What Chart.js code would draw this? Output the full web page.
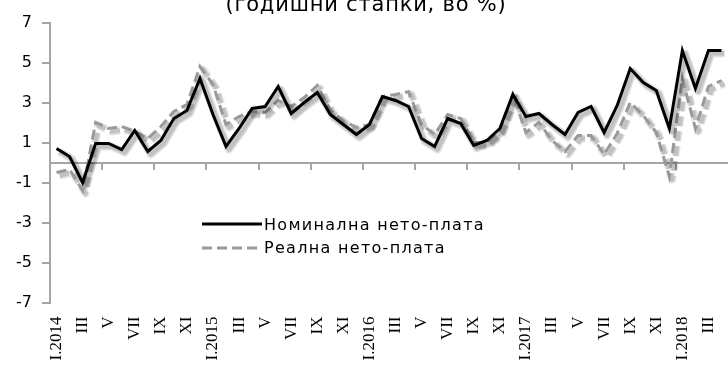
<!DOCTYPE html>
<html>
<head>
<meta charset="utf-8">
<script src="https://cdn.jsdelivr.net/npm/chart.js@4.4.1/dist/chart.umd.min.js"></script>
<style>
  html, body { margin: 0; padding: 0; background: #fff; }
  #wrap { width: 728px; height: 367px; position: relative; }
</style>
</head>
<body>
<div id="wrap"><canvas id="wages"></canvas></div>
<script>
// Monthly categories, January 2014 – April 2018
const months = [
  'I.2014','II','III','IV','V','VI','VII','VIII','IX','X','XI','XII',
  'I.2015','II','III','IV','V','VI','VII','VIII','IX','X','XI','XII',
  'I.2016','II','III','IV','V','VI','VII','VIII','IX','X','XI','XII',
  'I.2017','II','III','IV','V','VI','VII','VIII','IX','X','XI','XII',
  'I.2018','II','III','IV'
];

// Annual growth rates, %
const nominalNet = [
  0.7, 0.3, -1.0, 0.95, 0.95, 0.65, 1.6, 0.55, 1.1, 2.2, 2.6, 4.2,
  2.4, 0.8, 1.7, 2.7, 2.8, 3.8, 2.45, 3.0, 3.5, 2.4, 1.9, 1.4,
  1.9, 3.3, 3.1, 2.8, 1.2, 0.8, 2.2, 1.95, 0.85, 1.1, 1.7, 3.4,
  2.3, 2.45, 1.9, 1.4, 2.5, 2.8, 1.5, 2.85, 4.7, 4.0, 3.6, 1.7,
  5.6, 3.7, 5.6, 5.6
];
const realNet = [
  -0.5, -0.35, -1.4, 2.0, 1.7, 1.8, 1.55, 1.2, 1.8, 2.55, 2.9, 4.8,
  3.9, 1.9, 2.3, 2.55, 2.5, 3.1, 2.8, 3.25, 3.85, 2.6, 2.1, 1.75,
  1.9, 3.3, 3.4, 3.55, 1.9, 1.4, 2.4, 2.2, 1.0, 1.0, 1.6, 3.4,
  1.5, 2.0, 1.1, 0.55, 1.35, 1.35, 0.4, 1.45, 3.0, 2.35, 1.5, -0.7,
  4.2, 1.7, 3.8, 4.1
];

const seriesNames = ['Номинална нето-плата', 'Реална нето-плата'];
const titleText = '(годишни стапки, во %)';

const AXIS_GREY = '#a6a6a6';

// Soft drop shadow: before a line element strokes itself, its own path is
// stroked a few times, shifted down-right, in widening translucent passes
const lineShadow = {
  id: 'lineShadow',
  beforeDatasetDraw(chart, args) {
    const el = args.meta.dataset;
    if (!el || el._shadowed) return;
    const draw = el.draw.bind(el);
    el.draw = function (ctx, area, start, count) {
      const o = this.options;
      ctx.save();
      ctx.translate(3, 3);
      ctx.setLineDash(o.borderDash || []);
      ctx.lineJoin = 'round';
      ctx.lineCap = 'butt';
      [8, 6, 4].forEach(w => {
        ctx.strokeStyle = 'rgba(0,0,0,0.09)';
        ctx.lineWidth = w;
        ctx.beginPath();
        this.path(ctx);
        ctx.stroke();
      });
      ctx.restore();
      draw(ctx, area, start, count);
    };
    el._shadowed = true;
  }
};

// Subtitle at the top and the key placed inside the plot
const captions = {
  id: 'captions',
  afterDraw(chart) {
    const ctx = chart.ctx;
    ctx.save();
    ctx.fillStyle = '#000';
    ctx.font = '21px "DejaVu Sans"';
    ctx.letterSpacing = '0.8px';
    ctx.textAlign = 'center';
    ctx.textBaseline = 'alphabetic';
    ctx.fillText(titleText, 366, 11);

    const rows = [{ y: 224, ty: 226 }, { y: 248, ty: 249 }];
    chart.data.datasets.forEach((ds, i) => {
      const r = rows[i];
      ctx.beginPath();
      ctx.strokeStyle = ds.borderColor;
      ctx.lineWidth = ds.borderWidth;
      ctx.setLineDash(ds.borderDash || []);
      ctx.moveTo(202, r.y);
      ctx.lineTo(262, r.y);
      ctx.stroke();
      ctx.setLineDash([]);
      ctx.font = '16px "DejaVu Sans"';
      ctx.letterSpacing = '1.3px';
      ctx.textAlign = 'left';
      ctx.textBaseline = 'middle';
      ctx.fillStyle = '#000';
      ctx.fillText(ds.label, 264, r.ty);
    });
    ctx.restore();
  }
};

// keep the plot running right up to the canvas edge
const noSidePadding = s => { s.paddingLeft = 0; s.paddingRight = 0; };

// tick marks on the zero line every fourth month
const everyFourth = c => (c.index % 4 === 0 ? AXIS_GREY : 'rgba(0,0,0,0)');

new Chart(document.getElementById('wages'), {
  type: 'line',
  data: {
    labels: months,
    datasets: [
      {
        label: seriesNames[0],
        data: nominalNet,
        borderColor: '#000000',
        borderWidth: 3,
        pointRadius: 0,
        tension: 0,
        xAxisID: 'x',
        yAxisID: 'y'
      },
      {
        label: seriesNames[1],
        data: realNet,
        borderColor: '#999999',
        borderWidth: 3,
        borderDash: [10, 5],
        pointRadius: 0,
        tension: 0,
        xAxisID: 'x',
        yAxisID: 'y'
      }
    ]
  },
  options: {
    responsive: true,
    maintainAspectRatio: false,
    animation: false,
    layout: { padding: { top: 22.5, right: 0, bottom: 0, left: 0 } },
    plugins: {
      legend: { display: false },
      tooltip: { enabled: false },
      title: { display: false }
    },
    scales: {
      x: {
        type: 'category',
        axis: 'x',
        position: 'bottom',
        offset: true,
        grid: { display: false, drawTicks: false },
        border: { display: false },
        ticks: {
          autoSkip: false,
          minRotation: 90,
          maxRotation: 90,
          padding: 14,
          color: '#000',
          font: { family: 'Liberation Serif', size: 17 },
          callback: (v, i) => (i % 2 === 0 ? months[i] : '')
        },
        afterFit: s => { s.height = 64.5; noSidePadding(s); }
      },
      zero: {
        type: 'category',
        axis: 'x',
        position: { y: 0 },
        offset: true,
        grid: {
          display: true,
          offset: true,
          drawOnChartArea: false,
          drawTicks: true,
          tickLength: 6,
          lineWidth: 2,
          tickWidth: 2,
          color: everyFourth,
          tickColor: everyFourth
        },
        border: { display: true, color: AXIS_GREY, width: 2 },
        ticks: { display: false },
        afterFit: noSidePadding
      },
      y: {
        type: 'linear',
        axis: 'y',
        position: 'left',
        min: -7,
        max: 7,
        ticks: {
          stepSize: 2,
          padding: 10,
          color: '#000',
          font: { family: 'DejaVu Sans', size: 16 }
        },
        grid: {
          drawOnChartArea: false,
          drawTicks: true,
          tickLength: 8,
          lineWidth: 2,
          color: AXIS_GREY
        },
        border: { display: true, color: AXIS_GREY, width: 2 },
        afterFit: s => { s.width = 50; s.paddingTop = 0; s.paddingBottom = 0; }
      }
    }
  },
  plugins: [lineShadow, captions]
});
</script>
</body>
</html>
